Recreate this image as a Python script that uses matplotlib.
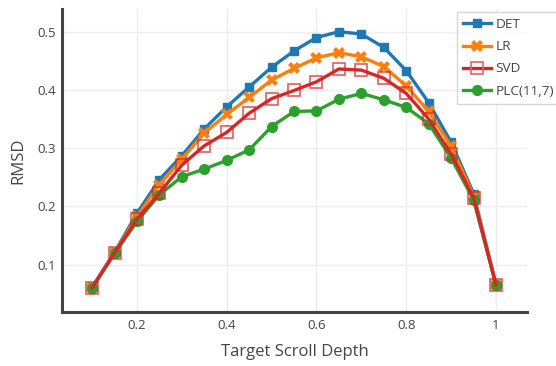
import matplotlib
matplotlib.use('Agg')
import matplotlib.pyplot as plt
from matplotlib.ticker import FuncFormatter

matplotlib.rcParams['font.family'] = ['Open Sans', 'DejaVu Sans']

depth = [0.1, 0.15, 0.2, 0.25, 0.3, 0.35, 0.4, 0.45, 0.5, 0.55,
         0.6, 0.65, 0.7, 0.75, 0.8, 0.85, 0.9, 0.95, 1.0]

det = [0.061, 0.121, 0.188, 0.246, 0.287, 0.333, 0.371, 0.405, 0.439, 0.467,
       0.490, 0.500, 0.496, 0.473, 0.433, 0.378, 0.310, 0.222, 0.065]
lr = [0.060, 0.120, 0.183, 0.237, 0.281, 0.326, 0.358, 0.387, 0.417, 0.437,
      0.455, 0.464, 0.457, 0.440, 0.407, 0.363, 0.303, 0.218, 0.065]
svd = [0.060, 0.120, 0.178, 0.223, 0.271, 0.304, 0.327, 0.360, 0.385, 0.399,
       0.414, 0.436, 0.434, 0.420, 0.394, 0.350, 0.290, 0.215, 0.065]
plc = [0.060, 0.119, 0.174, 0.220, 0.251, 0.264, 0.279, 0.297, 0.337, 0.363,
       0.364, 0.384, 0.394, 0.383, 0.370, 0.342, 0.283, 0.211, 0.065]

fig = plt.figure(figsize=(5.56, 3.66), dpi=100)
ax = fig.add_axes([62/556, 1-312/366, (527-62)/556, (312-9)/366])

l1, = ax.plot(depth, det, color='#1f77b4', lw=2.4, marker='s', ms=6, zorder=3)
l2, = ax.plot(depth, lr, color='#ff7f0e', lw=2.4, marker='X', ms=8.5, mew=0, zorder=4)
l4, = ax.plot(depth, plc, color='#2ca02c', lw=2.4, marker='o', ms=7, zorder=5)
l3, = ax.plot(depth, svd, color='#d62728', lw=2.4, zorder=6)
ax.plot(depth, svd, ls='none', marker='s', ms=8.5, mfc='none',
        mec='#d62728', mew=1.2, alpha=0.75, zorder=7)
l3m, = ax.plot([], [], color='#d62728', lw=2.4, marker='s', ms=8.5, mfc='none',
               mec='#e06666', mew=1.2)

ax.set_xlim(0.033, 1.069)
ax.set_ylim(0.0185, 0.539)
ax.set_xticks([0.2, 0.4, 0.6, 0.8, 1.0])
ax.set_yticks([0.1, 0.2, 0.3, 0.4, 0.5])
ax.xaxis.set_major_formatter(FuncFormatter(lambda v, p: ('%g' % round(v, 2))))
ax.grid(color='#eeeeee', lw=1)
ax.set_axisbelow(True)
ax.tick_params(length=0, labelsize=9.5, colors='#444444')
ax.tick_params(axis='y', pad=4.5)
ax.tick_params(axis='x', pad=5)
for s in ['top', 'right']:
    ax.spines[s].set_visible(False)
for s in ['left', 'bottom']:
    ax.spines[s].set_color('#444444')
    ax.spines[s].set_linewidth(2.2)

ax.set_xlabel('Target Scroll Depth', fontsize=12, color='#444444', labelpad=9)
ax.set_ylabel('RMSD', fontsize=12, color='#444444', labelpad=8)

leg = fig.legend([l1, l2, l3m, l4], ['DET', 'LR', 'SVD', 'PLC(11,7)'],
                 loc='upper left', bbox_to_anchor=(457/556, 1-12/366),
                 fontsize=9.7, frameon=True, fancybox=False, borderpad=0.45,
                 handlelength=2.05, labelspacing=0.68, handletextpad=0.37,
                 borderaxespad=0)
leg.get_frame().set_edgecolor('#cccccc')
leg.get_frame().set_linewidth(1)
for t in leg.get_texts():
    t.set_color('#444444')

plt.savefig('out.png', dpi=100)
